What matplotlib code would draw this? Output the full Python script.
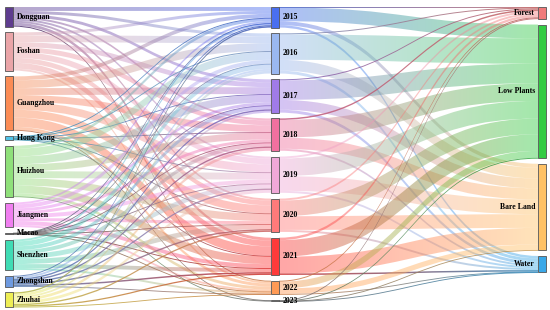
import numpy as np
import matplotlib.pyplot as plt
from matplotlib.path import Path
from matplotlib.patches import PathPatch, Rectangle
from matplotlib.colors import to_rgb

# nodes
cities = ['Dongguan', 'Foshan', 'Guangzhou', 'Hong Kong', 'Huizhou',
          'Jiangmen', 'Macao', 'Shenzhen', 'Zhongshan', 'Zhuhai']
years = ['2015', '2016', '2017', '2018', '2019', '2020', '2021', '2022', '2023']
lands = ['Forest', 'Low Plants', 'Bare Land', 'Water']

# city -> year flows (rows: cities, cols: years)
city_year = np.array([
    [4.0, 3.0, 3.0, 2.0, 2.0, 2.0, 3.0, 1.0, 0.0],   # Dongguan
    [3.0, 7.0, 5.0, 5.0, 6.0, 5.0, 6.0, 2.0, 0.0],   # Foshan
    [4.0, 8.0, 7.0, 7.0, 8.0, 8.0, 9.5, 3.0, 0.5],   # Guangzhou
    [0.5, 1.0, 0.5, 0.5, 0.5, 0.5, 0.5, 0.0, 0.0],   # Hong Kong
    [3.0, 8.0, 8.0, 7.0, 7.0, 7.5, 8.0, 3.0, 0.5],   # Huizhou
    [2.0, 4.0, 3.0, 3.0, 4.0, 3.0, 4.0, 2.0, 0.0],   # Jiangmen
    [0.1, 0.2, 0.1, 0.1, 0.1, 0.1, 0.2, 0.1, 0.0],   # Macao
    [2.0, 5.0, 4.0, 4.0, 5.0, 5.0, 4.0, 2.0, 0.0],   # Shenzhen
    [1.0, 2.0, 1.5, 1.5, 1.5, 1.5, 1.5, 0.5, 0.0],   # Zhongshan
    [1.4, 2.8, 1.9, 2.9, 2.9, 1.4, 1.3, 0.4, 0.0],   # Zhuhai
])

# year -> land cover flows (rows: years, cols: lands)
year_land = np.array([
    [0.5, 14.0, 4.0, 2.5],
    [1.0, 26.0, 11.0, 3.0],
    [1.0, 20.0, 10.0, 3.0],
    [1.5, 18.0, 11.5, 2.0],
    [2.0, 18.0, 15.0, 2.0],
    [2.0, 16.0, 14.0, 2.0],
    [2.5, 17.0, 17.0, 1.5],
    [1.0, 7.0, 5.5, 0.5],
    [0.5, 0.2, 0.2, 0.1],
])

city_colors = ['#5e3c8f', '#eaa5a8', '#fb8c55', '#4fc3e8', '#8fe07a',
               '#f07ef0', '#777777', '#3fdcb4', '#6e9ae0', '#eeee55']
year_colors = ['#4a6ff0', '#9ab8f0', '#a07be8', '#f0709f', '#f0a8d8',
               '#ff7a7a', '#ff3a3a', '#ff9a55', '#888888']
land_colors = ['#f07a7a', '#33cc44', '#ffc266', '#3aa8e8']

W, H = 550, 310
fig = plt.figure(figsize=(5.5, 3.1), dpi=100)
ax = fig.add_axes([0, 0, 1, 1])
ax.axis('off')

col_x = [5, 271, 538]
node_w = 8
top = 7
gap = 5.8
k = (300 - 9 * gap) / city_year.sum()


def layout(values):
    ys = []
    y = top
    for v in values:
        ys.append(y)
        y += v * k + gap
    return np.array(ys)


city_tot = city_year.sum(axis=1)
year_tot = city_year.sum(axis=0)
land_tot = year_land.sum(axis=0)
city_y = layout(city_tot)
year_y = layout(year_tot)
land_y = layout(land_tot)


def draw_link(x0, y0, x1, y1, w, c0, c1):
    wd = max(w, 0.9)
    alpha = 0.45 if w > 1.5 else 0.85
    xm = (x0 + x1) / 2
    verts = [(x0, y0), (xm, y0), (xm, y1), (x1, y1), (x1, y1 + wd),
             (xm, y1 + wd), (xm, y0 + wd), (x0, y0 + wd), (x0, y0)]
    codes = [Path.MOVETO, Path.CURVE4, Path.CURVE4, Path.CURVE4, Path.LINETO,
             Path.CURVE4, Path.CURVE4, Path.CURVE4, Path.CLOSEPOLY]
    patch = PathPatch(Path(verts, codes), facecolor='none', edgecolor='none')
    ax.add_patch(patch)
    t = np.linspace(0, 1, 64)[:, None]
    rgba = np.zeros((1, 64, 4))
    rgba[0, :, :3] = (1 - t) * np.array(to_rgb(c0)) + t * np.array(to_rgb(c1))
    if w <= 1.5:
        rgba[0, :, :3] *= 0.8  # thin links read darker
    rgba[0, :, 3] = alpha
    im = ax.imshow(rgba, extent=(x0, x1, max(y0, y1) + wd + 1, min(y0, y1) - 1),
                   aspect='auto', interpolation='bilinear', zorder=1)
    im.set_clip_path(patch)


def draw_stage(flows, src_y, dst_y, xs, xd, src_c, dst_c):
    n_s, n_d = flows.shape
    out_off = src_y.copy()
    in_off = dst_y.copy()
    # out edges sorted by target position, in edges by source position
    starts = {}
    for i in range(n_s):
        for j in range(n_d):
            v = flows[i, j]
            if v <= 0:
                continue
            starts[(i, j)] = out_off[i]
            out_off[i] += v * k
    ends = {}
    for j in range(n_d):
        for i in range(n_s):
            v = flows[i, j]
            if v <= 0:
                continue
            ends[(i, j)] = in_off[j]
            in_off[j] += v * k
    for (i, j), y0 in starts.items():
        draw_link(xs + node_w, y0, xd, ends[(i, j)], flows[i, j] * k,
                  src_c[i], dst_c[j])


draw_stage(city_year, city_y, year_y, col_x[0], col_x[1], city_colors, year_colors)
draw_stage(year_land, year_y, land_y, col_x[1], col_x[2], year_colors, land_colors)

font = dict(family='Liberation Serif', weight='bold', size=5.6, color='black')


def draw_nodes(names, ys, tots, x, colors, side):
    for name, y, v, c in zip(names, ys, tots, colors):
        h = max(v * k, 0.6)
        ax.add_patch(Rectangle((x, y), node_w, h, facecolor=c,
                               edgecolor='#555555', lw=0.6, zorder=3))
        if side == 'right':
            ax.text(x + node_w + 4, y + h / 2, name, ha='left', va='center',
                    zorder=4, **font)
        else:
            ax.text(x - 3, y + h / 2, name, ha='right', va='center',
                    zorder=4, **font)


draw_nodes(cities, city_y, city_tot, col_x[0], city_colors, 'right')
draw_nodes(years, year_y, year_tot, col_x[1], year_colors, 'right')
draw_nodes(lands, land_y, land_tot, col_x[2], land_colors, 'left')

ax.set_xlim(0, W)
ax.set_ylim(H, 0)
fig.savefig('out.png', dpi=100)
